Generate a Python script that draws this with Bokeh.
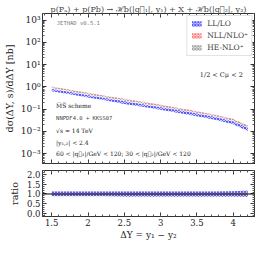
from bokeh.plotting import figure
from bokeh.models import (FixedTicker, CustomJSTickFormatter, Label, Span, LinearAxis,
                          LogAxis, Range1d, ColumnDataSource, Legend, LegendItem)
from bokeh.layouts import column
from bokeh.embed import file_html
from bokeh.resources import INLINE

# ---------------- data ----------------
dY = [1.5, 1.75, 2.0, 2.25, 2.5, 2.75, 3.0, 3.25, 3.5, 3.75, 4.0, 4.2]
ll_lo = [0.72, 0.52, 0.375, 0.275, 0.20, 0.148, 0.109, 0.079, 0.056, 0.039, 0.0245, 0.0125]
nll_nlo = [1.00, 0.72, 0.52, 0.38, 0.28, 0.205, 0.150, 0.108, 0.077, 0.054, 0.034, 0.0175]
he_nlo = [0.93, 0.67, 0.485, 0.355, 0.26, 0.19, 0.14, 0.10, 0.072, 0.050, 0.0315, 0.0162]

ll_rlow = [0.89, 0.89, 0.89, 0.89, 0.86, 0.86, 0.86, 0.86, 0.86, 0.86, 0.86, 0.84]
ll_rhigh = [1.13, 1.13, 1.13, 1.13, 1.13, 1.13, 1.13, 1.13, 1.13, 1.13, 1.14, 1.18]
nll_rlow = [0.96, 0.96, 0.96, 0.96, 0.96, 0.96, 0.96, 0.96, 0.96, 0.96, 0.96, 0.95]
nll_rhigh = [1.04, 1.04, 1.04, 1.04, 1.04, 1.04, 1.04, 1.04, 1.04, 1.04, 1.05, 1.06]
he_rlow = [0.95, 0.95, 0.95, 0.95, 0.95, 0.95, 0.95, 0.95, 0.95, 0.95, 0.95, 0.94]
he_rhigh = [1.05, 1.05, 1.05, 1.05, 1.05, 1.05, 1.05, 1.05, 1.05, 1.05, 1.06, 1.07]

x_ticks = [1.5, 2.0, 2.5, 3.0, 3.5, 4.0]
x_minor = [1.3 + 0.1 * i for i in range(32)]
y_ticks = [1e-3, 1e-2, 1e-1, 1e0, 1e1, 1e2, 1e3]
y_minor = [m * 10.0 ** k for k in range(-4, 4) for m in range(2, 10)]
r_ticks = [0.0, 0.5, 1.0, 1.5, 2.0]
r_minor = [0.1 * i for i in range(-1, 23)]

series = [
    ("LL/LO", ll_lo, ll_rlow, ll_rhigh, "#2a2aff", "diagonal_cross"),
    ("NLL/NLO⁺", nll_nlo, nll_rlow, nll_rhigh, "#ff5a5a", "diagonal_cross"),
    ("HE-NLO⁺", he_nlo, he_rlow, he_rhigh, "#8a8a8a", "diagonal_cross"),
]

SERIF = "DejaVu Serif"
MONO = "DejaVu Sans Mono"

x_range = Range1d(1.373, 4.293)

# ---------------- top panel ----------------
p1 = figure(width=255, height=166, x_range=x_range, y_range=Range1d(3.6e-4, 2e3),
            y_axis_type="log", output_backend="svg", toolbar_location=None,
            min_border_left=35, min_border_right=1, min_border_top=13, min_border_bottom=3)
p1.title.text = "p(Pₐ) + p(Pb) → ℋb(|q⃗₁|, y₁) + X + ℋb(|q⃗₂|, y₂)"
p1.title.align = "center"
p1.title.text_font = SERIF
p1.title.text_font_size = "8px"
p1.title.text_font_style = "normal"
p1.title.standoff = 0
p1.title.offset = 0

# ---------------- ratio panel ----------------
p2 = figure(width=255, height=76, x_range=x_range, y_range=Range1d(-0.15, 2.2),
            output_backend="svg", toolbar_location=None,
            min_border_left=35, min_border_right=1, min_border_top=4, min_border_bottom=23)

items = []
for name, cen, rlo, rhi, col, hatch in series:
    lo = [c * r for c, r in zip(cen, rlo)]
    hi = [c * r for c, r in zip(cen, rhi)]
    src = ColumnDataSource(dict(x=dY, lo=lo, hi=hi, rlo=rlo, rhi=rhi))
    r = p1.varea(x="x", y1="lo", y2="hi", source=src, fill_color=col, fill_alpha=0.25,
                 hatch_pattern=hatch, hatch_color=col, hatch_scale=3, hatch_weight=0.8,
                 hatch_alpha=0.9)
    p2.varea(x="x", y1="rlo", y2="rhi", source=src, fill_color=col, fill_alpha=0.25,
             hatch_pattern=hatch, hatch_color=col, hatch_scale=3, hatch_weight=0.8,
             hatch_alpha=0.9)
    items.append(LegendItem(label=name, renderers=[r]))

legend = Legend(items=items, location="top_right", label_text_font=SERIF,
                label_text_font_size="7.5px", glyph_width=12, glyph_height=7,
                label_height=8, spacing=3, padding=3, margin=2, label_standoff=5,
                border_line_color="#c8c8c8", border_line_width=0.8,
                background_fill_alpha=1.0)
p1.add_layout(legend, "center")

p2.add_layout(Span(location=1.0, dimension="width", line_color="black", line_width=1))

sup_js = """
const sup = {"-":"⁻","0":"⁰","1":"¹","2":"²","3":"³","4":"⁴","5":"⁵","6":"⁶","7":"⁷","8":"⁸","9":"⁹"};
const e = Math.round(Math.log10(tick));
return "10" + String(e).split("").map(c => sup[c]).join("");
"""
blank = CustomJSTickFormatter(code="return '';")
onedp = CustomJSTickFormatter(code="return tick.toFixed(1);")

def style_axis(ax, font_size="8.5px"):
    ax.major_tick_in = 4
    ax.major_tick_out = 0
    ax.minor_tick_in = 2
    ax.minor_tick_out = 0
    ax.axis_line_color = "#333333"
    ax.major_tick_line_color = "#333333"
    ax.minor_tick_line_color = "#555555"
    ax.major_label_text_font = SERIF
    ax.major_label_text_font_size = font_size
    ax.major_label_text_color = "#222222"
    ax.major_label_standoff = 2
    ax.axis_label_text_font = SERIF
    ax.axis_label_text_font_style = "normal"
    ax.axis_label_text_font_size = "9px"
    ax.axis_label_text_color = "#222222"

def hide_labels(ax):
    ax.formatter = blank
    ax.major_label_text_font_size = "1px"
    ax.major_label_standoff = 0

xt = FixedTicker(ticks=x_ticks, minor_ticks=x_minor)
yt = FixedTicker(ticks=y_ticks, minor_ticks=y_minor)
rt = FixedTicker(ticks=r_ticks, minor_ticks=r_minor)
yfmt = CustomJSTickFormatter(code=sup_js)

for p in (p1, p2):
    p.xgrid.visible = False
    p.ygrid.visible = False
    p.outline_line_color = "#333333"
    p.background_fill_color = "white"

# top panel axes
style_axis(p1.xaxis[0])
p1.xaxis[0].ticker = xt
hide_labels(p1.xaxis[0])
style_axis(p1.yaxis[0], font_size="9px")
p1.yaxis[0].ticker = yt
p1.yaxis[0].formatter = yfmt
p1.yaxis[0].axis_label = "dσ(ΔY, s)/dΔY [nb]"
p1.yaxis[0].axis_label_text_font_size = "9.5px"
p1.yaxis[0].axis_label_standoff = 3

rax = LogAxis(ticker=yt)
style_axis(rax)
hide_labels(rax)
p1.add_layout(rax, "right")
tax = LinearAxis(ticker=xt)
style_axis(tax)
hide_labels(tax)
p1.add_layout(tax, "above")

# ratio axes
style_axis(p2.xaxis[0])
p2.xaxis[0].ticker = xt
p2.xaxis[0].axis_label = "ΔY = y₁ − y₂"
p2.xaxis[0].axis_label_standoff = 1
style_axis(p2.yaxis[0])
p2.yaxis[0].ticker = rt
p2.yaxis[0].formatter = onedp
p2.yaxis[0].axis_label = "ratio"
p2.yaxis[0].axis_label_text_font_size = "9.5px"
p2.yaxis[0].axis_label_standoff = 4
rax2 = LinearAxis(ticker=rt)
style_axis(rax2)
hide_labels(rax2)
p2.add_layout(rax2, "right")
tax2 = LinearAxis(ticker=xt)
style_axis(tax2)
hide_labels(tax2)
p2.add_layout(tax2, "above")

# annotations
def add_label(text, x, y, font=SERIF, size="6px", color="#222222", align="left"):
    p1.add_layout(Label(x=x, y=y, text=text, text_font=font, text_font_size=size,
                        text_color=color, text_baseline="middle", text_align=align))

add_label("JETHAD v0.5.1", 1.57, 720, font=MONO, size="5.5px", color="#777777")
add_label("M̅S̅ scheme", 1.56, 0.145)
add_label("NNPDF4.0 + KKSS07", 1.56, 0.039, font=MONO, size="5.5px", color="#444444")
add_label("√s = 14 TeV", 1.56, 0.0105)
add_label("|y₁,₂| < 2.4", 1.56, 0.0031)
add_label("60 < |q⃗₁|/GeV < 120; 30 < |q⃗₂|/GeV < 120", 1.56, 0.001)
add_label("1/2 < Cμ < 2", 3.54, 3.4, size="6.5px")

layout = column(p1, p2, spacing=0)
open("out.html", "w").write(file_html(layout, INLINE))
